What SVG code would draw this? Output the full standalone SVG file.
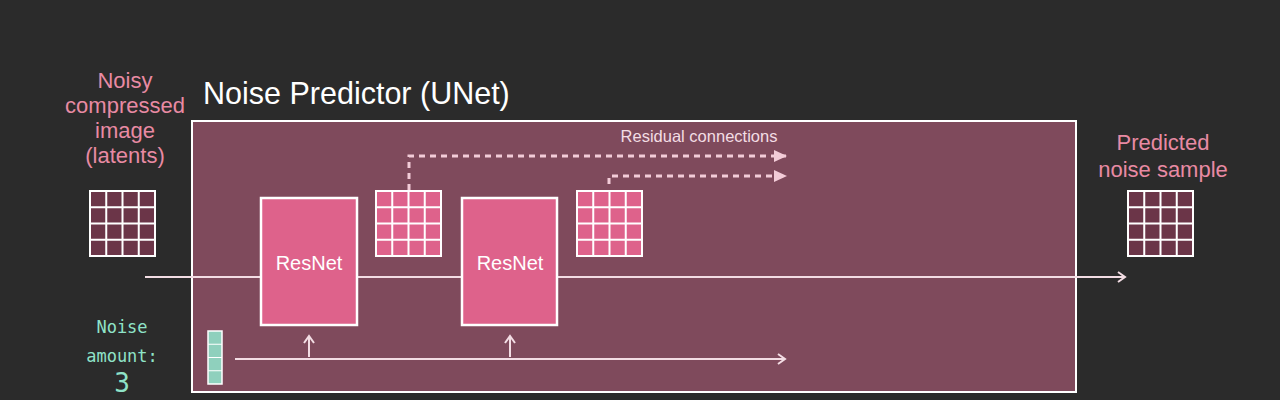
<svg xmlns="http://www.w3.org/2000/svg" width="1280" height="400" viewBox="0 0 1280 400">
<defs>
<style>
.lbl{font-family:"Liberation Sans",Arial,sans-serif;fill:#e88aa3;font-size:22px;text-anchor:middle}
.mono{font-family:"DejaVu Sans Mono","Liberation Mono",monospace;fill:#8fe3c8;text-anchor:middle}
.res{fill:#de628b;stroke:#ffffff;stroke-width:2.5}
.rtxt{font-family:"Liberation Sans",Arial,sans-serif;fill:#ffffff;font-size:20px;text-anchor:middle}
.line{stroke:#f3dde4;stroke-width:2;fill:none}
.dash{stroke:#f3ccd8;stroke-width:3;fill:none;stroke-dasharray:6 5}
.gl{stroke:#ffffff;stroke-width:2;fill:none}
</style>
<marker id="chev" markerWidth="12" markerHeight="12" refX="9" refY="6" orient="auto" markerUnits="userSpaceOnUse">
<path d="M2,1 L9,6 L2,11" fill="none" stroke="#f3dde4" stroke-width="2"/>
</marker>
<marker id="tri" markerWidth="14" markerHeight="14" refX="12" refY="7" orient="auto" markerUnits="userSpaceOnUse">
<path d="M0,1 L13,7 L0,13 Z" fill="#f3ccd8"/>
</marker>
<g id="grid">
<rect x="0" y="0" width="65" height="65" class="gl"/>
<path d="M16.25,0V65M32.5,0V65M48.75,0V65M0,16.25H65M0,32.5H65M0,48.75H65" class="gl"/>
</g>
</defs>
<rect width="1280" height="400" fill="#2b2b2b"/>

<g id="unet">
<rect x="192" y="121" width="884" height="271" fill="#7f4a5c" stroke="#ffffff" stroke-width="2"/>
<text x="203" y="104" font-family="Liberation Sans,Arial,sans-serif" font-size="30.5" fill="#ffffff">Noise Predictor (UNet)</text>
</g>

<g id="input">
<text class="lbl"><tspan x="125" y="88">Noisy</tspan><tspan x="125" y="113">compressed</tspan><tspan x="125" y="138">image</tspan><tspan x="125" y="163">(latents)</tspan></text>
<rect x="90" y="191" width="65" height="65" fill="#6b3548"/>
<use href="#grid" x="90" y="191"/>
</g>

<g id="noise-amount">
<text class="mono" x="122" y="333" font-size="17">Noise</text>
<text class="mono" x="122" y="362" font-size="17">amount:</text>
<text class="mono" x="122" y="392" font-size="26">3</text>
<rect x="208" y="331" width="14" height="53" fill="#8fd0bd" stroke="#ffffff" stroke-width="1.5"/>
<path d="M208,344.25H222M208,357.5H222M208,370.75H222" stroke="#ffffff" stroke-width="1.2"/>
</g>

<g id="connectors">
<line x1="145" y1="277" x2="1125" y2="277" class="line" marker-end="url(#chev)"/>
<line x1="235" y1="359" x2="785" y2="359" class="line" marker-end="url(#chev)"/>
<line x1="309" y1="357" x2="309" y2="336" class="line" marker-end="url(#chev)"/>
<line x1="510" y1="357" x2="510" y2="336" class="line" marker-end="url(#chev)"/>
<path d="M409,190 V156 H786" class="dash" marker-end="url(#tri)"/>
<path d="M609,184 V176 H786" class="dash" marker-end="url(#tri)"/>
<text x="699" y="142" font-family="Liberation Sans,Arial,sans-serif" font-size="16.5" fill="#f3dde4" text-anchor="middle">Residual connections</text>
</g>

<g id="resnet1">
<rect x="261" y="198" width="96" height="127" class="res"/>
<text class="rtxt" x="309" y="270">ResNet</text>
</g>

<g id="latent1">
<rect x="376" y="191" width="65" height="65" fill="#de628b"/>
<use href="#grid" x="376" y="191"/>
</g>

<g id="resnet2">
<rect x="462" y="198" width="95" height="127" class="res"/>
<text class="rtxt" x="510" y="270">ResNet</text>
</g>

<g id="latent2">
<rect x="577" y="191" width="65" height="65" fill="#de628b"/>
<use href="#grid" x="577" y="191"/>
</g>

<g id="output">
<text class="lbl"><tspan x="1163" y="150">Predicted</tspan><tspan x="1163" y="177">noise sample</tspan></text>
<rect x="1128" y="191" width="65" height="65" fill="#6b3548"/>
<use href="#grid" x="1128" y="191"/>
</g>
</svg>
